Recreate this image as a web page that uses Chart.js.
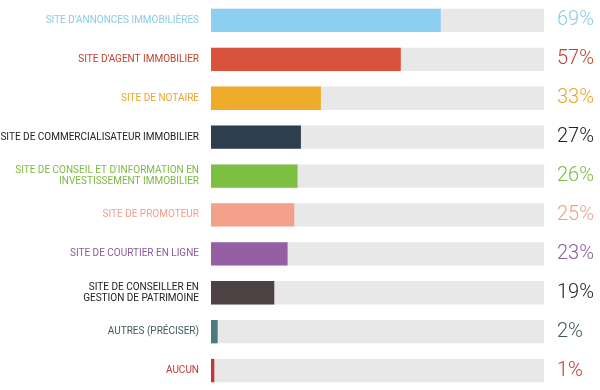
<!DOCTYPE html>
<html>
<head>
<meta charset="utf-8">
<script src="https://cdn.jsdelivr.net/npm/chart.js@4.4.1/dist/chart.umd.min.js"></script>
<style>
  html, body { margin: 0; padding: 0; background: #fff; }
  #wrap { width: 600px; height: 390px; position: relative; }
</style>
</head>
<body>
<div id="wrap"><canvas id="siteChart"></canvas></div>
<script>
const categories = [
    "SITE D'ANNONCES IMMOBILIÈRES",
    "SITE D'AGENT IMMOBILIER",
    'SITE DE NOTAIRE',
    'SITE DE COMMERCIALISATEUR IMMOBILIER',
    ["SITE DE CONSEIL ET D'INFORMATION EN", 'INVESTISSEMENT IMMOBILIER'],
    'SITE DE PROMOTEUR',
    'SITE DE COURTIER EN LIGNE',
    ['SITE DE CONSEILLER EN', 'GESTION DE PATRIMOINE'],
    'AUTRES (PRÉCISER)',
    'AUCUN'
];
const shares = [69, 57, 33, 27, 26, 25, 23, 19, 2, 1];
const shareLabels = ['69%', '57%', '33%', '27%', '26%', '25%', '23%', '19%', '2%', '1%'];
const track = [100, 100, 100, 100, 100, 100, 100, 100, 100, 100];

const barColors = ['#8dcff1', '#d9533c', '#eeab2a', '#2d3e4d', '#7cbf41', '#f4a18b', '#9560a3', '#4d4143', '#4a7a7b', '#c0393a'];
const labelColors = ['#8ccbe6', '#c2402f', '#e9a62c', '#222', '#7cb845', '#f19f8a', '#8d5b9c', '#222', '#3f5a5e', '#c0393a'];
const pctColors = ['#8ccbe6', '#c2402f', '#e9a62c', '#222', '#7cb845', '#f19f8a', '#8d5b9c', '#222', '#3f5a5e', '#c0393a'];

// fixed side widths, no extra top/bottom padding from the edge labels
const fitSide = w => scale => {
    scale.width = w;
    scale.paddingTop = 0;
    scale.paddingBottom = 0;
};

const ctx = document.getElementById('siteChart').getContext('2d');

new Chart(ctx, {
    type: 'bar',
    data: {
        labels: categories,
        datasets: [{
            data: shares,
            backgroundColor: barColors,
            barPercentage: 0.6,
            categoryPercentage: 1,
            grouped: false,
            order: 1
        }, {
            data: track,
            backgroundColor: '#e8e8e8',
            barPercentage: 0.6,
            categoryPercentage: 1,
            grouped: false,
            order: 2
        }]
    },
    options: {
        indexAxis: 'y',
        responsive: true,
        maintainAspectRatio: false,
        animation: false,
        layout: { padding: { top: 1, bottom: 0, left: 0, right: 0 } },
        plugins: {
            legend: { display: false },
            tooltip: { enabled: false }
        },
        scales: {
            x: {
                display: false,
                min: 0,
                max: 100
            },
            y: {
                grid: { display: false, drawTicks: false },
                border: { display: false },
                afterFit: fitSide(211),
                ticks: {
                    padding: 12,
                    color: c => labelColors[c.index],
                    font: { size: 10, family: 'Roboto', lineHeight: 1.15 }
                }
            },
            y2: {
                type: 'category',
                position: 'right',
                labels: shareLabels,
                offset: true,
                grid: { display: false, drawTicks: false },
                border: { display: false },
                afterFit: fitSide(56),
                ticks: {
                    padding: 13,
                    color: c => pctColors[c.index],
                    font: { size: 20, family: 'Roboto', weight: '300' }
                }
            }
        }
    }
});
</script>
</body>
</html>
